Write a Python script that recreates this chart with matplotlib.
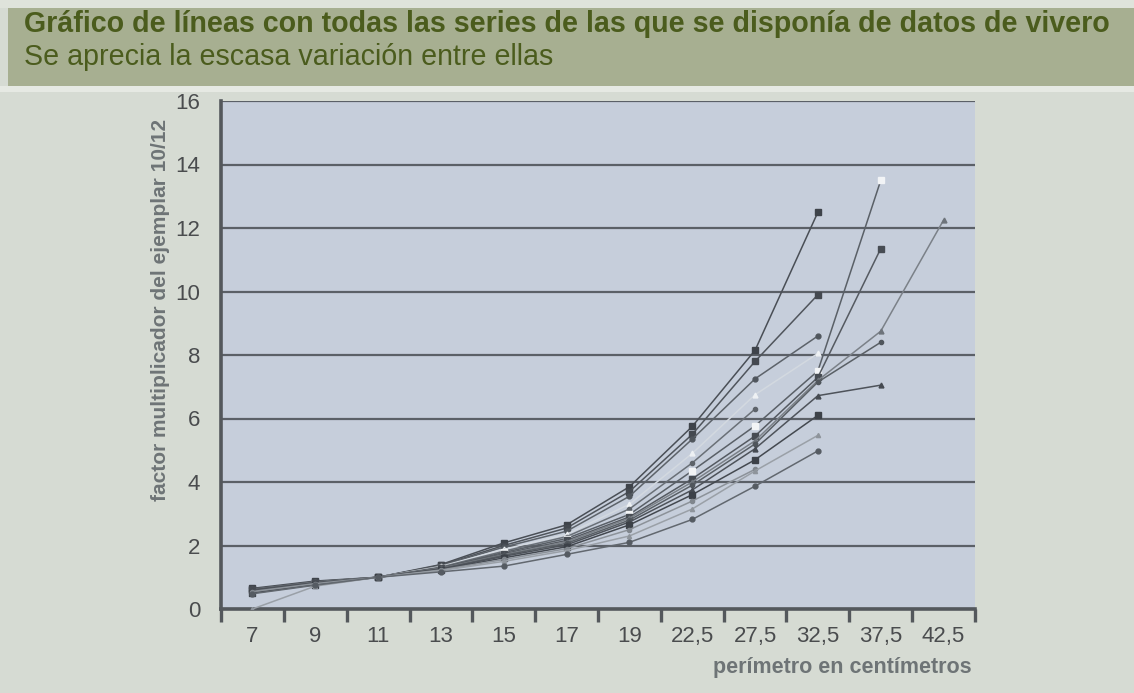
import matplotlib
matplotlib.use("Agg")
import matplotlib.pyplot as plt
import numpy as np
from matplotlib import font_manager
from matplotlib.patches import Rectangle

# ---- data ----
categories = ["7", "9", "11", "13", "15", "17", "19", "22,5", "27,5", "32,5", "37,5", "42,5"]
nan = np.nan
serie_f = [0.65, 0.88, 1.0, 1.40, 2.08, 2.65, 3.85, 5.75, 8.15, 12.5, nan, nan]
serie_g = [0.62, 0.86, 1.0, 1.38, 2.00, 2.55, 3.70, 5.50, 7.80, 9.90, nan, nan]
serie_h = [0.60, 0.84, 1.0, 1.36, 1.95, 2.45, 3.55, 5.35, 7.25, 8.60, nan, nan]
serie_i = [0.58, 0.83, 1.0, 1.34, 1.88, 2.35, 3.30, 4.90, 6.75, 8.05, nan, nan]
serie_m = [0.62, 0.85, 1.0, 1.32, 1.82, 2.28, 3.15, 4.60, 6.30, nan, nan, nan]
serie_a = [0.55, 0.80, 1.0, 1.30, 1.78, 2.22, 2.98, 4.35, 5.77, 7.50, 13.5, nan]
serie_b = [0.60, 0.83, 1.0, 1.29, 1.74, 2.16, 2.90, 4.10, 5.45, 7.30, 11.35, nan]
serie_c = [0.52, 0.78, 1.0, 1.28, 1.71, 2.12, 2.86, 4.00, 5.30, 7.20, 8.75, 12.25]
serie_d = [0.57, 0.80, 1.0, 1.27, 1.69, 2.07, 2.80, 3.90, 5.20, 7.15, 8.40, nan]
serie_e = [0.60, 0.82, 1.0, 1.26, 1.66, 2.02, 2.74, 3.75, 5.05, 6.72, 7.05, nan]
serie_j = [0.50, 0.77, 1.0, 1.24, 1.61, 1.96, 2.65, 3.60, 4.70, 6.10, nan, nan]
serie_n = [0.55, 0.80, 1.0, 1.23, 1.56, 1.90, 2.50, 3.40, 4.40, nan, nan, nan]
serie_k = [0.00, 0.72, 1.0, 1.21, 1.50, 1.84, 2.30, 3.15, 4.35, 5.47, nan, nan]
serie_l = [0.48, 0.75, 1.0, 1.17, 1.35, 1.72, 2.10, 2.82, 3.87, 4.98, nan, nan]

series = [serie_f, serie_g, serie_h, serie_i, serie_m, serie_a, serie_b,
          serie_c, serie_d, serie_e, serie_j, serie_n, serie_k, serie_l]

title = "Gráfico de líneas con todas las series de las que se disponía de datos de vivero"
subtitle = "Se aprecia la escasa variación entre ellas"
ylabel = "factor multiplicador del ejemplar 10/12"
xlabel = "perímetro en centímetros"

# ---- styling ----
names = {f.name for f in font_manager.fontManager.ttflist}
NARROW = "Liberation Sans Narrow" if "Liberation Sans Narrow" in names else "Liberation Sans"
plt.rcParams["font.family"] = [NARROW, "DejaVu Sans"]

line_colors = ["#4a4f56", "#50555c", "#5d636a", "#d3d9e0", "#6a7077", "#5a6067", "#555a61",
               "#7b8188", "#5a6066", "#4e535a", "#444950", "#8c9299", "#9aa0a7", "#62686f"]
marker_colors = ["#3e434a", "#444950", "#50565d", "#eef1f4", "#5d636a", "#f2f4f6", "#474c53",
                 "#6e747b", "#50565c", "#454a51", "#3c4148", "#80868d", "#8e949b", "#555b62"]
markers = ["s", "s", "o", "^", "o", "s", "s", "^", "o", "^", "s", "o", "^", "o"]
msizes = [4.5, 4.5, 3.5, 3.5, 3, 4, 4, 3.5, 3, 3.5, 4, 3, 3, 3.5]

W, H = 1134, 693
fig = plt.figure(figsize=(W / 100, H / 100), dpi=100)
fig.patch.set_facecolor("#d6dbd3")

# title banner
fig.patches.append(Rectangle((0, 1 - 8 / H), 1, 8 / H, transform=fig.transFigure,
                             facecolor="#dfe3db", edgecolor="none", zorder=0))
fig.patches.append(Rectangle((8 / W, 1 - 86 / H), 1, 78 / H, transform=fig.transFigure,
                             facecolor="#a7af91", edgecolor="none", zorder=0))
fig.patches.append(Rectangle((0, 1 - 92 / H), 1, 6 / H, transform=fig.transFigure,
                             facecolor="#e6e9e3", edgecolor="none", zorder=0))
fig.text(24 / W, 1 - 24 / H, title, fontsize=20.6, fontweight="bold", color="#4b5c1d",
         va="center", ha="left")
fig.text(24 / W, 1 - 57 / H, subtitle, fontsize=20.6, color="#4b5c1d", va="center", ha="left")

ax = fig.add_axes([221 / W, 1 - 609 / H, (975 - 221) / W, (609 - 101) / H])
ax.set_facecolor("#c6cedb")

x = np.arange(len(categories))
for k, vals in enumerate(series):
    ax.plot(x, vals, color=line_colors[k], lw=1.1, marker=markers[k], ms=msizes[k],
            mfc=marker_colors[k], mec=marker_colors[k], zorder=3)

ax.set_ylim(0, 16)
ax.set_yticks(np.arange(0, 17, 2))
ax.set_xlim(-0.5, len(categories) - 0.5)
ax.set_xticks(np.arange(-0.5, len(categories), 1.0))
ax.set_xticklabels([])
ax.set_xticks(x, minor=True)
ax.set_xticklabels(categories, minor=True)

ax.grid(axis="y", color="#5b6067", lw=1.6, zorder=1)
ax.set_axisbelow(True)
for s in ("top", "right"):
    ax.spines[s].set_visible(False)
for s in ("left", "bottom"):
    ax.spines[s].set_color("#54585c")
    ax.spines[s].set_linewidth(2.6)

ax.tick_params(axis="y", length=0, pad=15, labelsize=16, labelcolor="#4a4c4e")
ax.tick_params(axis="x", which="major", length=9, width=2.4, color="#54585c", direction="out")
ax.tick_params(axis="x", which="minor", length=0, pad=12, labelsize=16, labelcolor="#4a4c4e")

fig.text(161 / W, 1 - 310 / H, ylabel, rotation=90, fontsize=15, fontweight="bold",
         color="#6e7476", va="center", ha="center")
fig.text(972 / W, 1 - 668 / H, xlabel, fontsize=15.5, fontweight="bold",
         color="#6e7476", va="center", ha="right")

fig.savefig("out.png", dpi=100, facecolor=fig.get_facecolor())
